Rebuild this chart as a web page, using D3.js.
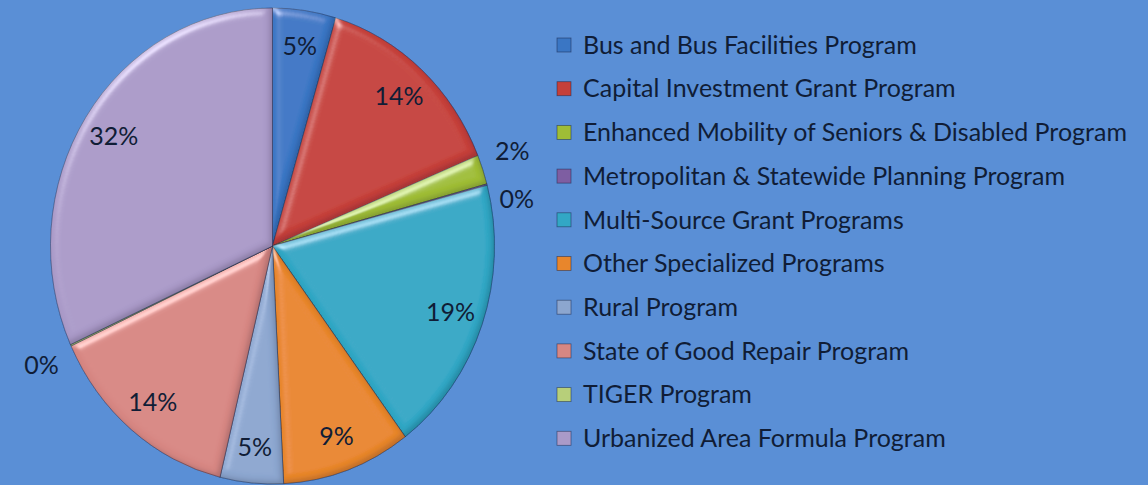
<!DOCTYPE html>
<html>
<head>
<meta charset="utf-8">
<script src="https://cdn.jsdelivr.net/npm/d3@7"></script>
<style>
  html, body { margin: 0; padding: 0; background: #5a8fd6; }
  svg { display: block; }
  text { font-family: Lato, "Open Sans", sans-serif; fill: #101d36; }
</style>
</head>
<body>
<svg width="1148" height="485"></svg>
<script>
// program names, in legend order
var programs = [
  "Bus and Bus Facilities Program",
  "Capital Investment Grant Program",
  "Enhanced Mobility of Seniors & Disabled Program",
  "Metropolitan & Statewide Planning Program",
  "Multi-Source Grant Programs",
  "Other Specialized Programs",
  "Rural Program",
  "State of Good Repair Program",
  "TIGER Program",
  "Urbanized Area Formula Program"
];
// share of funding, percent
var shares = [4.6, 14.2, 2.0, 0.1, 18.9, 9.4, 4.6, 14.3, 0.1, 31.8];
var sliceColors = ["#3a76c4", "#c5403a", "#9fbd36", "#7e5ea2", "#32a7c5",
                   "#e8862c", "#8ca6cf", "#d78783", "#b7cf7a", "#aa9ac8"];

var svg = d3.select("svg"),
    width = +svg.attr("width"),
    height = +svg.attr("height");

var cx = 272.5, cy = 246, radius = 222, stretch = 1.072;

// bevel look, roughly like the office 3D pie
var defs = svg.append("defs");
var bevel = defs.append("filter").attr("id", "bevel")
    .attr("x", "-10%").attr("y", "-10%").attr("width", "120%").attr("height", "120%");
bevel.append("feGaussianBlur").attr("in", "SourceAlpha").attr("stdDeviation", 4).attr("result", "blur");
var spec = bevel.append("feSpecularLighting").attr("in", "blur")
    .attr("surfaceScale", 5).attr("specularConstant", 0.9)
    .attr("specularExponent", 22).attr("lighting-color", "#ffffff").attr("result", "spec");
spec.append("feDistantLight").attr("azimuth", 235).attr("elevation", 30);
bevel.append("feComposite").attr("in", "spec").attr("in2", "SourceAlpha")
    .attr("operator", "in").attr("result", "specIn");
bevel.append("feComposite").attr("in", "SourceGraphic").attr("in2", "specIn")
    .attr("operator", "arithmetic").attr("k1", 0).attr("k2", 1).attr("k3", 0.45).attr("k4", 0)
    .attr("result", "lit");
// inner shadow on the lower right edges
bevel.append("feGaussianBlur").attr("in", "SourceAlpha").attr("stdDeviation", 2.5).attr("result", "blur2");
bevel.append("feOffset").attr("in", "blur2").attr("dx", -3).attr("dy", -3).attr("result", "shifted");
bevel.append("feComposite").attr("in", "SourceAlpha").attr("in2", "shifted")
    .attr("operator", "out").attr("result", "edge");
bevel.append("feFlood").attr("flood-color", "#0a1430").attr("flood-opacity", 0.35).attr("result", "dark");
bevel.append("feComposite").attr("in", "dark").attr("in2", "edge")
    .attr("operator", "in").attr("result", "shadow");
var merge = bevel.append("feMerge");
merge.append("feMergeNode").attr("in", "lit");
merge.append("feMergeNode").attr("in", "shadow");

var color = d3.scaleOrdinal().domain(programs).range(sliceColors);

var pie = d3.pie().sort(null).value(function(d) { return d.value; });
var arcs = pie(programs.map(function(p, i) { return {name: p, value: shares[i]}; }));

var arc = d3.arc().innerRadius(0).outerRadius(radius);

var g = svg.append("g")
    .attr("transform", "translate(" + cx + "," + cy + ") scale(1," + stretch + ")");

g.selectAll("path")
    .data(arcs)
    .enter().append("path")
    .attr("d", arc)
    .attr("fill", function(d) { return color(d.data.name); })
    .attr("stroke", "rgba(20,30,60,0.45)")
    .attr("stroke-width", 0.8)
    .attr("filter", "url(#bevel)");

// percentage labels: inside for normal slices, outside for thin ones
var labelArc = d3.arc().innerRadius(radius * 0.85).outerRadius(radius * 0.85);
var outerArc = d3.arc().innerRadius(radius * 1.06).outerRadius(radius * 1.06);
var boxW = 34, boxH = 28;

var lastRight = -1e9;
var labels = arcs.map(function(d) {
    var outside = d.endAngle - d.startAngle < 0.2;
    var c = (outside ? outerArc : labelArc).centroid(d);
    var x = cx + c[0], y = cy + c[1] * stretch;
    if (outside) {
        // label box sits just off the rim, pushed apart when they collide
        var mid = (d.startAngle + d.endAngle) / 2;
        x += (Math.sin(mid) >= 0 ? 1 : -1) * boxW / 2;
        y += (Math.cos(mid) >= 0 ? -1 : 1) * boxH / 2;
        if (mid < Math.PI) {
            if (y < lastRight + 48) y = lastRight + 48;
            lastRight = y;
        }
    }
    return {x: x, y: y, text: Math.round(d.value) + "%"};
});

svg.append("g").selectAll("text")
    .data(labels)
    .enter().append("text")
    .attr("x", function(d) { return d.x; })
    .attr("y", function(d) { return d.y; })
    .attr("dy", "0.35em")
    .attr("text-anchor", "middle")
    .style("font-size", "25px")
    .text(function(d) { return d.text; });

// legend
var legend = svg.append("g").attr("transform", "translate(557,45)");
var rowH = 43.7;

var item = legend.selectAll("g")
    .data(programs)
    .enter().append("g")
    .attr("transform", function(d, i) { return "translate(0," + (i * rowH) + ")"; });

item.append("rect")
    .attr("x", 0).attr("y", -7)
    .attr("width", 14).attr("height", 14)
    .attr("fill", function(d) { return color(d); })
    .attr("stroke", "rgba(20,30,60,0.55)")
    .attr("stroke-width", 0.8);

item.append("text")
    .attr("x", 26)
    .attr("dy", "0.35em")
    .style("font-size", "25px")
    .text(function(d) { return d; });
</script>
</body>
</html>
